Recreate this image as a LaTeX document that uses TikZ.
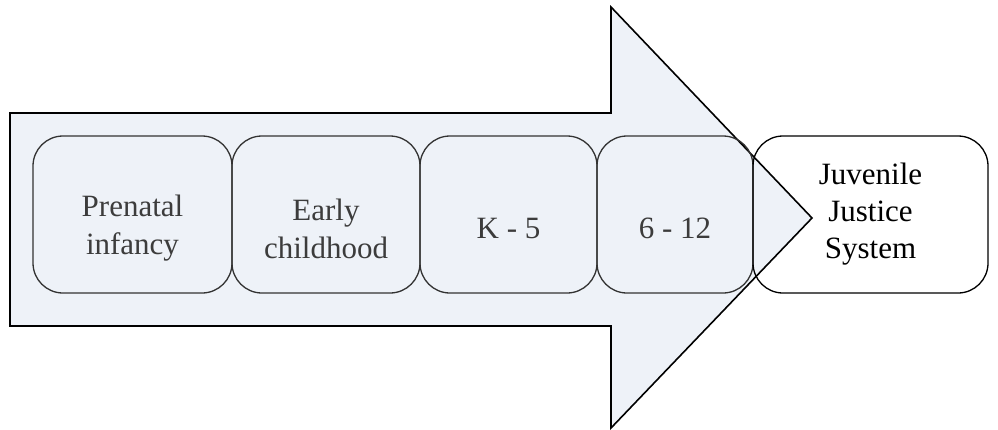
\documentclass[tikz,border=0pt]{standalone}
\usepackage{fontspec}
\setmainfont{Liberation Serif}
\definecolor{arrowfill}{HTML}{EEF2F8}
\definecolor{stagetext}{HTML}{3C3C3C}
\definecolor{stageline}{HTML}{333333}
\begin{document}
\begin{tikzpicture}[x=1pt,y=-1pt,
  stage/.style={draw=stageline, line width=1.3pt, rounded corners=30pt,
    minimum height=157pt, inner sep=0pt},
  stagelabel/.style={align=center, text=stagetext, inner sep=0pt,
    font=\fontsize{31}{38}\selectfont},
  goal/.style={draw=black, line width=1.3pt, rounded corners=30pt,
    minimum height=157pt, inner sep=0pt, align=center, text=black,
    font=\fontsize{31}{37}\selectfont}]
\useasboundingbox (0,0) rectangle (998,429);
% big block arrow
\draw[fill=arrowfill, line width=1.6pt, line join=miter]
  (10,113) -- (611,113) -- (611,7) -- (812,218) -- (611,428) -- (611,326) -- (10,326) -- cycle;
% stages
\node[stage, minimum width=199pt] (prenatal) at (132.5,214.5) {};
\node[stage, minimum width=188pt] (early) at (326,214.5) {};
\node[stage, minimum width=177pt] (k5) at (508.5,214.5) {};
\node[stage, minimum width=156pt] (g612) at (675,214.5) {};
\node[stagelabel] (prenatal-t) at ([yshift=-14pt]prenatal.center) {Prenatal\\infancy};
\node[stagelabel] (early-t) at ([yshift=-14pt]early.center) {Early\\childhood};
\node[stagelabel] (k5-t) at ([yshift=-14pt]k5.center) {K - 5};
\node[stagelabel] (g612-t) at ([yshift=-14pt]g612.center) {6 - 12};
\node[goal, minimum width=235pt] (jjs) at (870.5,214.5) {Juvenile\\Justice\\System};
\end{tikzpicture}
\end{document}
